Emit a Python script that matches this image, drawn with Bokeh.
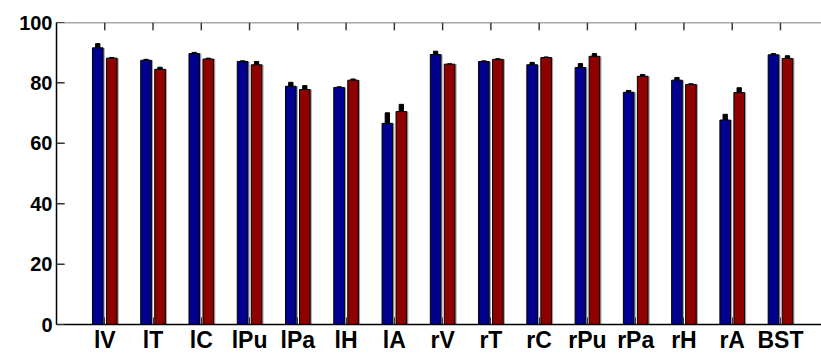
from bokeh.plotting import figure
from bokeh.models import Range1d, LinearAxis, FixedTicker, ColumnDataSource, Span
from bokeh.embed import file_html
from bokeh.resources import INLINE

categories = ["lV", "lT", "lC", "lPu", "lPa", "lH", "lA", "rV", "rT", "rC", "rPu", "rPa", "rH", "rA", "BST"]
blue_vals = [91.6, 87.5, 89.7, 87.1, 78.9, 78.5, 66.6, 89.4, 87.1, 86.0, 85.1, 76.9, 80.9, 67.7, 89.3]
blue_err = [1.4, 0.3, 0.4, 0.2, 1.3, 0.2, 3.5, 1.1, 0.2, 0.8, 1.3, 0.6, 0.9, 1.9, 0.4]
red_vals = [88.2, 84.5, 87.9, 86.0, 77.8, 80.9, 70.5, 86.2, 87.8, 88.4, 88.8, 82.2, 79.5, 76.8, 88.1]
red_err = [0.2, 0.7, 0.3, 1.1, 1.3, 0.4, 2.4, 0.1, 0.2, 0.2, 0.9, 0.6, 0.2, 1.6, 0.9]
y_ticks = [0, 20, 40, 60, 80, 100]

BLUE = "#00008F"
RED = "#8F0000"
OFF = 0.145
BW = 0.22
Y_MAX = 100
X_MAX = 15.85
TICK_LEN_Y = 2.6     # ~8px in y data units
TICK_LEN_X = 0.166   # ~8px in x data units

pos = list(range(1, len(categories) + 1))

def src(vals, errs, off):
    return ColumnDataSource(dict(
        x=[p + off for p in pos],
        xs=[p + off + 0.035 for p in pos],
        top=vals,
        etop=[v + e for v, e in zip(vals, errs)],
    ))

sb = src(blue_vals, blue_err, -OFF)
sr = src(red_vals, red_err, OFF)

p = figure(width=821, height=356, output_backend="svg", toolbar_location=None,
           x_range=Range1d(0, X_MAX), y_range=Range1d(0, Y_MAX),
           min_border_left=56, min_border_right=0, min_border_top=22, min_border_bottom=32,
           x_axis_location=None, y_axis_location=None)
p.outline_line_color = None
p.xgrid.visible = False
p.ygrid.visible = False
p.background_fill_color = "white"
p.border_fill_color = "white"

for s, c in ((sb, BLUE), (sr, RED)):
    p.vbar(x="xs", top="top", bottom=0, width=BW, source=s, fill_color="#9a9a9a",
           line_color=None, fill_alpha=0.9)
    p.vbar(x="x", top="etop", bottom="top", width=0.09, source=s, fill_color="black",
           line_color="black", line_width=1)
    p.vbar(x="x", top="top", bottom=0, width=BW, source=s, fill_color=c,
           line_color="black", line_width=1)

# inward ticks along the top edge and the left edge
p.vbar(x=pos, top=[Y_MAX] * len(pos), bottom=[Y_MAX - TICK_LEN_Y] * len(pos),
       width=0.03, fill_color="#333333", line_color=None)
p.hbar(y=y_ticks[1:-1], left=[0] * (len(y_ticks) - 2), right=[TICK_LEN_X] * (len(y_ticks) - 2),
       height=0.45, fill_color="#333333", line_color=None)
p.add_layout(Span(location=Y_MAX, dimension="width", line_color="#555555", line_width=1.5))

font = "Liberation Sans"

xb = LinearAxis(ticker=FixedTicker(ticks=pos))
xb.major_label_overrides = {i + 1: c for i, c in enumerate(categories)}
xb.major_label_text_font = font
xb.major_label_text_font_style = "bold"
xb.major_label_text_font_size = "23px"
xb.major_label_text_color = "black"
xb.major_label_standoff = 2
xb.major_tick_in = 7
xb.major_tick_out = 0
xb.major_tick_line_color = "#333333"
xb.minor_tick_line_color = None
xb.axis_line_color = "black"
xb.axis_line_width = 1.5
p.add_layout(xb, "below")

yl = LinearAxis(ticker=FixedTicker(ticks=y_ticks))
yl.major_label_text_font = font
yl.major_label_text_font_style = "bold"
yl.major_label_text_font_size = "20px"
yl.major_label_text_color = "black"
yl.major_label_standoff = 4
yl.major_tick_in = 8
yl.major_tick_out = 0
yl.major_tick_line_color = "#333333"
yl.minor_tick_line_color = None
yl.axis_line_color = "black"
yl.axis_line_width = 1.5
p.add_layout(yl, "left")

open("out.html", "w").write(file_html(p, INLINE))
